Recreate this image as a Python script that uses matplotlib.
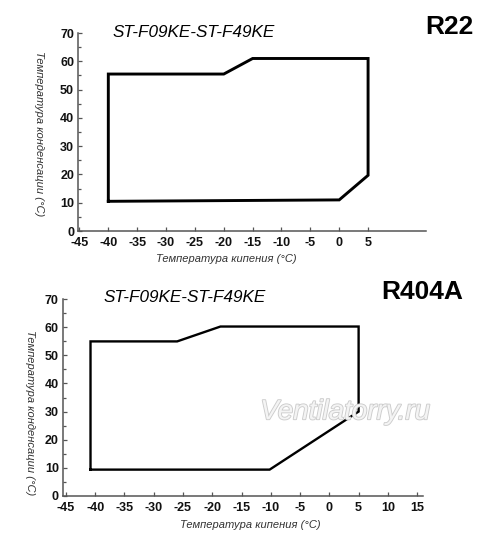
import matplotlib
matplotlib.use("Agg")
import matplotlib.pyplot as plt
import matplotlib.patheffects as pe
from matplotlib.ticker import MultipleLocator

# envelope data (evaporating temp, condensing temp)
r22_evap = [-40, -40, -20, -15, 5, 5, 0, -40]
r22_cond = [10.5, 55.5, 55.5, 61, 61, 19.7, 11, 10.5]

r404a_evap = [-40.8, -40.8, -26, -18.6, 5, 5, -10.2, -40.8]
r404a_cond = [9.3, 55, 55, 60.3, 60.3, 30, 9.3, 9.3]

model = "ST-F09KE-ST-F49KE"
xlabel = "Температура кипения (°C)"
ylabel = "Температура конденсации (°C)"

top_xticks = list(range(-45, 10, 5))
bot_xticks = list(range(-45, 20, 5))
yticks = list(range(0, 80, 10))

plt.rcParams['font.family'] = ['Liberation Sans', 'DejaVu Sans']
plt.rcParams['axes.unicode_minus'] = False

fig = plt.figure(figsize=(5, 5.46), dpi=100)
fig.patch.set_facecolor("white")


def style_axes(ax, xlim, xticks):
    ax.set_xlim(*xlim)
    ax.set_ylim(0, 70)
    ax.set_xticks(xticks)
    ax.set_yticks(yticks)
    ax.yaxis.set_minor_locator(MultipleLocator(5))
    for s in ("top", "right"):
        ax.spines[s].set_visible(False)
    for s in ("left", "bottom"):
        ax.spines[s].set_color("#555555")
        ax.spines[s].set_linewidth(1.1)
    ax.tick_params(which="both", direction="in", color="#555555", width=0.9)
    ax.tick_params(which="major", length=3)
    ax.tick_params(which="minor", length=2)
    ax.tick_params(axis="x", pad=4.5)
    ax.tick_params(axis="y", pad=3)
    for lab in ax.get_xticklabels() + ax.get_yticklabels():
        lab.set_fontweight("bold")
        lab.set_fontsize(9)
        lab.set_color("#111111")


# top chart: R22
ax1 = fig.add_axes([0.1566, 0.5769, 0.695, 0.3626])
ax1.plot(r22_evap, r22_cond, color="black", lw=2.1, solid_joinstyle="miter")
style_axes(ax1, (-45.2, 15), top_xticks)

fig.text(0.388, 0.941, model, fontsize=12.3, style="italic", ha="center", va="center")
fig.text(0.898, 0.951, "R22", fontsize=19, fontweight="bold", ha="center", va="center")
fig.text(0.452, 0.5256, xlabel, fontsize=8, style="italic", color="#333333",
         ha="center", va="center")
fig.text(0.078, 0.756, ylabel, fontsize=8, style="italic", color="#333333",
         rotation=270, ha="center", va="center")

# bottom chart: R404A
ax2 = fig.add_axes([0.126, 0.0921, 0.72, 0.3597])
ax2.plot(r404a_evap, r404a_cond, color="black", lw=1.7, solid_joinstyle="miter")
style_axes(ax2, (-45.5, 16), bot_xticks)

fig.text(0.37, 0.456, model, fontsize=12.3, style="italic", ha="center", va="center")
fig.text(0.845, 0.465, "R404A", fontsize=19, fontweight="bold", ha="center", va="center")
fig.text(0.5, 0.0385, xlabel, fontsize=8, style="italic", color="#333333",
         ha="center", va="center")
fig.text(0.06, 0.245, ylabel, fontsize=8, style="italic", color="#333333",
         rotation=270, ha="center", va="center")

# watermark
fig.text(0.69, 0.245, "Ventilatorry.ru", fontsize=20, style="italic",
         color="#f4f4f4", ha="center", va="center",
         path_effects=[pe.withStroke(linewidth=1.3, foreground="#cccccc")])

fig.savefig("out.png", dpi=100, facecolor="white")
